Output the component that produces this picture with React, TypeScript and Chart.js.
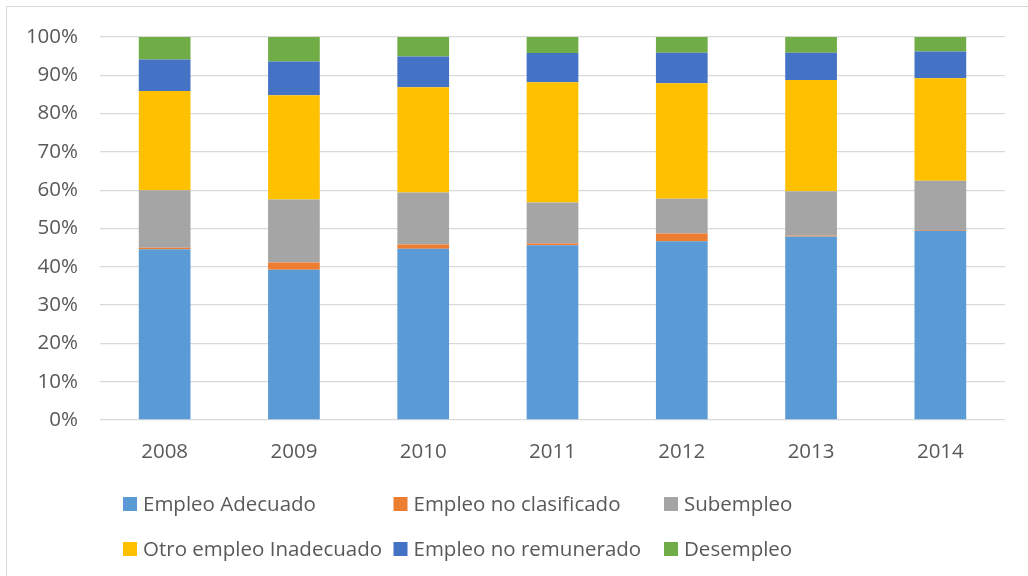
import React, { useEffect, useRef } from "react";
import { Chart, registerables } from "chart.js";

Chart.register(...registerables);

const years = ["2008", "2009", "2010", "2011", "2012", "2013", "2014"];
const seriesNames = [
  "Empleo Adecuado",
  "Empleo no clasificado",
  "Subempleo",
  "Otro empleo Inadecuado",
  "Empleo no remunerado",
  "Desempleo",
];
const empleoAdecuado = [44.6, 39.2, 44.7, 45.6, 46.7, 47.9, 49.4];
const empleoNoClasificado = [0.4, 1.9, 1.1, 0.5, 2.0, 0.3, 0.2];
const subempleo = [15.0, 16.5, 13.6, 10.7, 9.1, 11.5, 12.9];
const otroEmpleoInadecuado = [25.9, 27.2, 27.5, 31.4, 30.1, 29.1, 26.7];
const empleoNoRemunerado = [8.2, 8.8, 8.0, 7.6, 8.0, 7.1, 7.0];
const desempleo = [5.9, 6.4, 5.1, 4.2, 4.1, 4.1, 3.8];
const yTicks = [0, 10, 20, 30, 40, 50, 60, 70, 80, 90, 100];

const seriesValues = [
  empleoAdecuado,
  empleoNoClasificado,
  subempleo,
  otroEmpleoInadecuado,
  empleoNoRemunerado,
  desempleo,
];
const seriesColors = ["#5B9BD5", "#ED7D31", "#A5A5A5", "#FFC000", "#4472C4", "#70AD47"];

const FONT = '"Open Sans", sans-serif';
const TEXT = "#595959";

const gridLegend = {
  id: "gridLegend",
  afterDraw(chart: any) {
    const ctx = chart.ctx;
    const left = chart.chartArea.left + 23;
    ctx.save();
    ctx.font = `20.5px ${FONT}`;
    ctx.textBaseline = "alphabetic";
    ctx.textAlign = "left";
    chart.data.datasets.forEach((ds: any, i: number) => {
      const col = i % 3;
      const row = Math.floor(i / 3);
      const x = left + col * 270.5;
      const base = 511 + row * 45;
      ctx.fillStyle = ds.backgroundColor;
      ctx.fillRect(x, base - 14, 14, 14);
      ctx.fillStyle = TEXT;
      ctx.fillText(ds.label, x + 20, base);
    });
    ctx.restore();
  },
};

export default function App() {
  const canvasRef = useRef<HTMLCanvasElement | null>(null);

  useEffect(() => {
    if (!canvasRef.current) return;
    const chart = new Chart(canvasRef.current, {
      type: "bar",
      data: {
        labels: years,
        datasets: seriesNames.map((name, i) => ({
          label: name,
          data: seriesValues[i],
          backgroundColor: seriesColors[i],
          borderWidth: 0,
          categoryPercentage: 1,
          barPercentage: 0.4,
        })),
      },
      options: {
        animation: false,
        responsive: false,
        layout: { padding: { left: 0, right: 23, top: 37, bottom: 0 } },
        plugins: {
          legend: { display: false },
          tooltip: { enabled: false },
        },
        scales: {
          x: {
            stacked: true,
            grid: { display: false },
            border: { display: false },
            ticks: {
              color: TEXT,
              font: { family: FONT, size: 20.5 },
              padding: 12,
            },
            afterFit(scale: any) {
              scale.height = 156;
            },
          },
          y: {
            stacked: true,
            min: 0,
            max: 100,
            afterBuildTicks(scale: any) {
              scale.ticks = yTicks.map((v) => ({ value: v }));
            },
            grid: { color: "#D9D9D9", lineWidth: 1.3, drawTicks: false },
            border: { display: false },
            ticks: {
              color: TEXT,
              font: { family: FONT, size: 20.5 },
              padding: 22,
              callback: (v: any) => `${v}%`,
            },
            afterFit(scale: any) {
              scale.width = 100;
            },
          },
        },
      },
      plugins: [gridLegend],
    });
    return () => chart.destroy();
  }, []);

  return (
    <div
      style={{
        position: "fixed",
        left: 0,
        top: 0,
        width: 1028,
        height: 576,
        overflow: "hidden",
        background: "#fff",
      }}
    >
      <div
        style={{
          position: "absolute",
          left: 6,
          top: 6,
          width: 1100,
          height: 700,
          border: "1px solid #D9D9D9",
        }}
      />
      <canvas
        ref={canvasRef}
        width={1028}
        height={576}
        style={{ position: "absolute", left: 0, top: 0, display: "block" }}
      />
    </div>
  );
}
